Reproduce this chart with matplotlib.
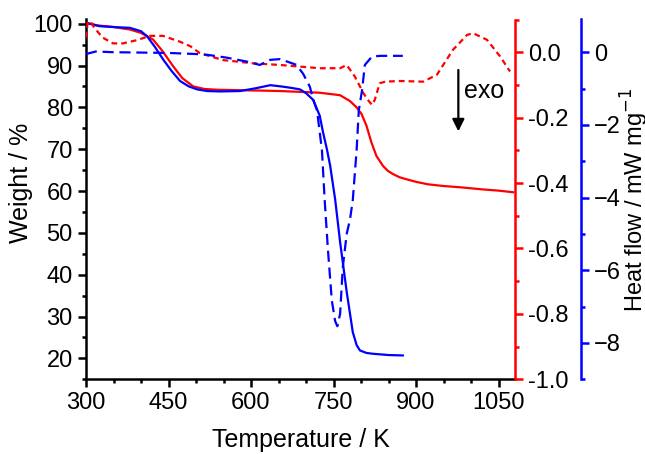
import matplotlib
matplotlib.use("Agg")
import matplotlib.pyplot as plt
from matplotlib.ticker import MultipleLocator, FormatStrFormatter

plt.rcParams['font.family'] = ['Liberation Sans', 'DejaVu Sans']

# Weight (left axis), red solid
t_w_red = [300, 320, 350, 380, 400, 422, 440, 458, 475, 495, 515, 540, 580, 620, 653, 690, 725,
           762, 780, 792, 801, 810, 819, 828, 840, 849, 859, 870, 883, 900, 922, 950, 980, 1020, 1050, 1077]
w_red = [100.2, 99.6, 99.2, 98.6, 97.8, 96.2, 93.3, 89.9, 87.0, 85.0, 84.4, 84.2, 84.1, 84.0, 83.9, 83.7, 83.5,
         82.9, 81.5, 80.0, 78.4, 75.6, 71.6, 68.4, 66.0, 64.8, 64.0, 63.3, 62.8, 62.2, 61.6, 61.2, 60.9, 60.4, 60.1, 59.7]

# Weight (left axis), blue solid
t_w_blue = [300, 325, 350, 380, 400, 411, 425, 440, 455, 471, 487, 502, 520, 544, 580, 610, 635, 655,
            671, 689, 700, 713, 725, 731, 738, 744, 753, 762, 774, 785, 792, 798, 810, 822, 850, 876]
w_blue = [100.2, 99.4, 99.2, 99.0, 98.2, 97.0, 94.5, 91.5, 88.8, 86.3, 85.0, 84.3, 83.9, 83.8, 83.9, 84.6, 85.3, 85.0,
          84.7, 84.3, 83.4, 81.8, 78.0, 74.0, 70.0, 66.0, 58.0, 47.8, 35.9, 26.3, 23.2, 21.9, 21.3, 21.1, 20.8, 20.7]

# Heat flow (red axis), red dashed
t_hf_red = [300, 303, 308, 315, 330, 349, 367, 393, 416, 440, 471, 490, 507, 549, 604, 653, 689, 725,
            762, 774, 789, 804, 812, 820, 825, 834, 844, 871, 913, 938, 967, 993, 1004, 1029, 1053, 1071]
hf_red = [0.045, 0.09, 0.095, 0.075, 0.045, 0.027, 0.027, 0.037, 0.05, 0.05, 0.032, 0.018, -0.003, -0.024, -0.034,
          -0.039, -0.044, -0.049, -0.049, -0.039, -0.075, -0.124, -0.145, -0.161, -0.146, -0.095, -0.09, -0.088,
          -0.09, -0.069, 0.007, 0.053, 0.058, 0.038, -0.013, -0.059]

# Heat flow (blue axis), blue dashed
t_hf_blue = [300, 318, 350, 400, 450, 500, 520, 556, 593, 616, 635, 653, 683, 695, 707, 713, 720, 729, 734,
             740, 747, 753, 757, 762, 767, 774, 780, 785, 792, 796, 802, 807, 820, 835, 850, 876]
hf_blue = [-0.05, 0.02, 0.0, -0.01, -0.02, -0.05, -0.07, -0.15, -0.26, -0.35, -0.21, -0.19, -0.35, -0.6, -0.95,
           -1.3, -1.6, -2.7, -4.08, -5.46, -6.84, -7.4, -7.54, -7.2, -5.9, -5.0, -4.6, -4.08, -2.7, -1.6, -1.04,
           -0.35, -0.12, -0.1, -0.1, -0.1]

x_ticks = [300, 450, 600, 750, 900, 1050]
w_ticks = [20, 30, 40, 50, 60, 70, 80, 90, 100]
red_ticks = [-1.0, -0.8, -0.6, -0.4, -0.2, 0.0]
blue_ticks = [-8, -6, -4, -2, 0]

FS = 17
W_PX, H_PX = 645, 454
fig = plt.figure(figsize=(W_PX / 100, H_PX / 100), dpi=100)
ax = fig.add_axes([86 / W_PX, 1 - 379.3 / H_PX, (515 - 86) / W_PX, (379.3 - 19.5) / H_PX])
ax_r = ax.twinx()
ax_b = ax.twinx()

lw = 1.6
ax.plot(t_w_red, w_red, color='#ff0000', lw=lw)
ax.plot(t_w_blue, w_blue, color='#0000ff', lw=lw)
ax_r.plot(t_hf_red, hf_red, color='#ff0000', lw=lw, linestyle=(0, (2.6, 1.8)))
ax_b.plot(t_hf_blue, hf_blue, color='#0000ff', lw=lw, linestyle=(0, (5, 2.6)))

ax.set_xlim(300, 1080)
ax.set_ylim(15, 101)
ax_r.set_ylim(-1.0, 0.1)
ax_b.set_ylim(-9, 0.9)

ax.set_xticks(x_ticks)
ax.xaxis.set_minor_locator(MultipleLocator(50))
ax.set_yticks(w_ticks)
ax.yaxis.set_minor_locator(MultipleLocator(5))
ax_r.set_yticks(red_ticks)
ax_r.yaxis.set_minor_locator(MultipleLocator(0.1))
ax_r.yaxis.set_major_formatter(FormatStrFormatter('%.1f'))
ax_b.set_yticks(blue_ticks)
ax_b.yaxis.set_minor_locator(MultipleLocator(1))

spw = 1.8
for s in ['top', 'right']:
    ax.spines[s].set_visible(False)
for s in ['left', 'bottom']:
    ax.spines[s].set_linewidth(spw)
for a in (ax_r, ax_b):
    for s in ['top', 'left', 'bottom']:
        a.spines[s].set_visible(False)
ax_r.spines['right'].set_color('#ff0000')
ax_r.spines['right'].set_linewidth(spw)
ax_b.spines['right'].set_color('#0000ff')
ax_b.spines['right'].set_linewidth(spw)
ax_b.spines['right'].set_position(('axes', 1 + 66 / 429))

ax.tick_params(which='major', length=6, width=spw, labelsize=FS, direction='out')
ax.tick_params(which='minor', length=3, width=spw, direction='out')
ax_r.tick_params(which='major', length=6, width=spw, labelsize=FS, color='#ff0000')
ax_r.tick_params(which='minor', length=3, width=spw, color='#ff0000')
ax_b.tick_params(which='major', length=6, width=spw, labelsize=FS, color='#0000ff')
ax_b.tick_params(which='minor', length=3, width=spw, color='#0000ff')

ax.set_xlabel('Temperature / K', fontsize=FS + 1, labelpad=10)
ax.set_ylabel('Weight / %', fontsize=FS + 1)
ax.yaxis.set_label_coords(-0.1235, 0.545)
ax_b.set_ylabel('Heat flow / mW mg$^{-1}$', fontsize=FS)
ax_b.yaxis.set_label_coords(1.243, 0.5)

ax.annotate('', xy=(977, 73.6), xytext=(977, 89.6),
            arrowprops=dict(arrowstyle='-|>', color='black', lw=1.6, mutation_scale=18))
ax.text(988, 84.0, 'exo', fontsize=FS + 1, ha='left', va='center')

fig.savefig('out.png', dpi=100)
